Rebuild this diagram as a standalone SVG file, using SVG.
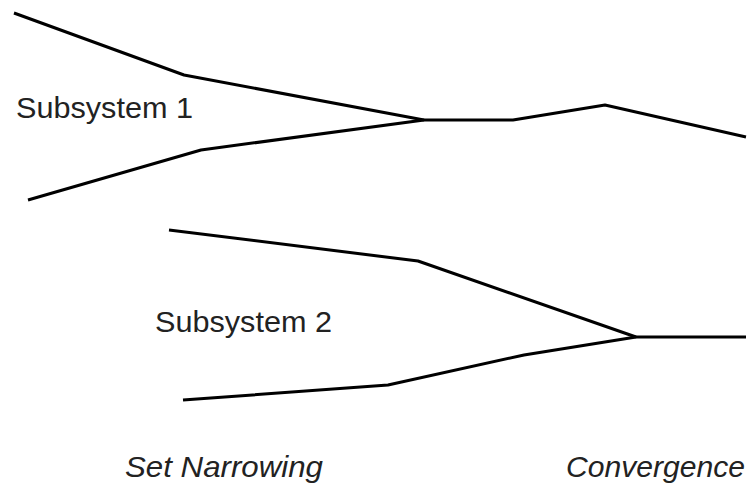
<svg xmlns="http://www.w3.org/2000/svg" width="752" height="486" viewBox="0 0 752 486">
  <style>
    .path { fill: none; stroke: #000; stroke-width: 3; stroke-linejoin: round; stroke-linecap: butt; }
    .label { font-family: "Liberation Sans", Arial, sans-serif; font-size: 29px; fill: #222; }
    .caption { font-style: italic; }
  </style>
  <rect width="752" height="486" fill="#fff"/>

  <g id="connectors">
    <!-- Subsystem 1: two design paths narrowing into one -->
    <polyline class="path" points="14,13 184,75 424,120"/>
    <polyline class="path" points="28,200 201,150 424,120"/>
    <polyline class="path" points="424,120 513,120 605,105 746,137"/>
    <!-- Subsystem 2 -->
    <polyline class="path" points="169,230 418,261 636,337"/>
    <polyline class="path" points="183,400 388,385 524,355 636,337"/>
    <polyline class="path" points="636,337 746,337"/>
  </g>

  <g id="subsystem1">
    <text class="label" x="16" y="118" textLength="177" lengthAdjust="spacingAndGlyphs">Subsystem 1</text>
  </g>
  <g id="subsystem2">
    <text class="label" x="155" y="332" textLength="177" lengthAdjust="spacingAndGlyphs">Subsystem 2</text>
  </g>
  <g id="set-narrowing">
    <text class="label caption" x="125" y="477" textLength="198" lengthAdjust="spacingAndGlyphs">Set Narrowing</text>
  </g>
  <g id="convergence">
    <text class="label caption" x="566" y="477" textLength="179" lengthAdjust="spacingAndGlyphs">Convergence</text>
  </g>
</svg>
